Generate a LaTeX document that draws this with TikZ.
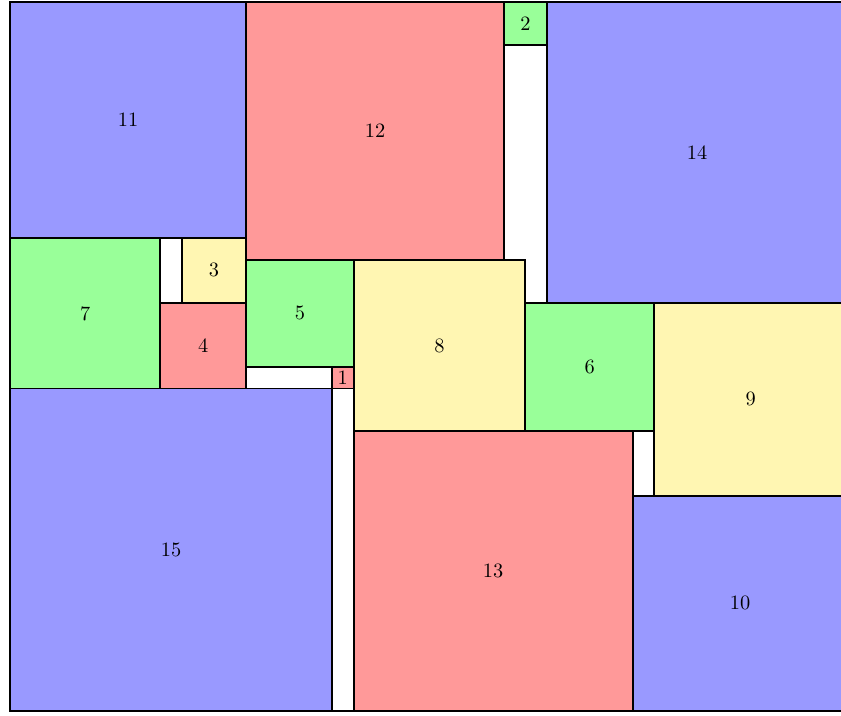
\documentclass[tikz,border=0pt]{standalone}
\definecolor{cblue}{RGB}{153,153,255}
\definecolor{cred}{RGB}{255,153,153}
\definecolor{cgreen}{RGB}{153,255,153}
\definecolor{cyellow}{RGB}{255,246,178}
\tikzset{sqline/.style={draw=black,line width=1.3pt},
  sqlabel/.style={scale=1.35}}
\newcommand{\sqfill}[4]{%
  \fill[#4] (#1,{33-#2-#3}) rectangle ({#1+#3},{33-#2});}
\newcommand{\sqdraw}[4]{%
  \draw[sqline] (#1,{33-#2-#3}) rectangle ({#1+#3},{33-#2});
  \node[sqlabel] (s#3) at ({#1+#3/2},{33-#2-#3/2}) {#3};}
\newcommand{\allsq}[1]{%
  #1{0}{0}{11}{cblue}
  #1{0}{11}{7}{cgreen}
  #1{0}{18}{15}{cblue}
  #1{11}{0}{12}{cred}
  #1{23}{0}{2}{cgreen}
  #1{25}{0}{14}{cblue}
  #1{8}{11}{3}{cyellow}
  #1{7}{14}{4}{cred}
  #1{11}{12}{5}{cgreen}
  #1{15}{17}{1}{cred}
  #1{16}{12}{8}{cyellow}
  #1{24}{14}{6}{cgreen}
  #1{30}{14}{9}{cyellow}
  #1{16}{20}{13}{cred}
  #1{29}{23}{10}{cblue}}
\begin{document}
\begin{tikzpicture}[x=0.5cm,y=0.5cm]
\useasboundingbox (-0.466,-0.21) rectangle (38.70,33.093);
\allsq{\sqfill}
\allsq{\sqdraw}
\draw[sqline] (0,0) rectangle (39,33);
\end{tikzpicture}
\end{document}
